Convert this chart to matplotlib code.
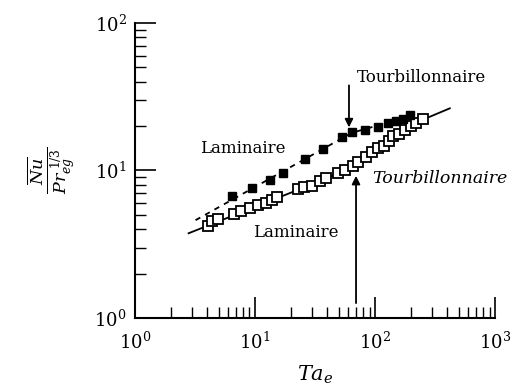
import matplotlib
matplotlib.use("Agg")
import matplotlib.pyplot as plt

plt.rcParams['font.family'] = ['DejaVu Serif']
plt.rcParams['mathtext.fontset'] = 'dejavuserif'

# open squares (lower series)
ta_open = [4.06, 4.38, 4.92, 6.68, 7.64, 9.08, 10.6, 12.4, 13.9, 15.3,
           22.8, 25.6, 29.9, 34.8, 39.1, 49.2, 56.2, 65.6, 72.2, 84.1,
           94.4, 106, 119, 131, 141, 158, 178, 200, 220, 251]
nu_open = [4.20, 4.54, 4.68, 5.06, 5.30, 5.56, 5.82, 6.01, 6.29, 6.60,
           7.47, 7.71, 7.83, 8.47, 8.87, 9.59, 10.0, 10.7, 11.4, 12.3,
           13.3, 14.2, 14.6, 15.8, 17.1, 17.6, 18.8, 19.9, 20.9, 22.3]

# filled squares (upper series)
ta_fill = [6.4, 9.4, 13.3, 17.1, 26.1, 36.9, 53.1, 64.3, 82.5, 106,
           128, 150, 171, 196]
nu_fill = [6.7, 7.6, 8.6, 9.6, 11.9, 13.9, 16.8, 18.2, 18.7, 19.7,
           20.9, 21.6, 22.2, 23.7]

# correlation lines
ta_solid = [2.8, 60, 250, 420]
nu_solid = [3.75, 10.1, 22.1, 26.4]
ta_dash = [3.2, 64, 130]
nu_dash = [4.6, 18.0, 21.2]

# transition arrows: x position, tail y, tip y
arrow_up = (69.5, 1.26, 9.2)
arrow_down = (60.7, 37.8, 19.6)

fig = plt.figure(figsize=(5.13, 3.91), dpi=100)
ax = fig.add_axes([0.263, 0.187, 0.702, 0.754])

ax.plot(ta_solid, nu_solid, color='black', lw=1.3, zorder=2)
ax.plot(ta_dash, nu_dash, color='black', lw=1.3, ls=(0, (3, 3)), zorder=2)
ax.plot(ta_open, nu_open, ls='none', marker='s', ms=7, mfc='white',
        mec='black', mew=1.3, zorder=3)
ax.plot(ta_fill, nu_fill, ls='none', marker='s', ms=6, mfc='black',
        mec='black', zorder=3)

for xa, y0, y1 in (arrow_up, arrow_down):
    ax.annotate('', xy=(xa, y1), xytext=(xa, y0),
                arrowprops=dict(arrowstyle='-|>', color='black', lw=1.3,
                                mutation_scale=12, shrinkA=0, shrinkB=0))

ax.text(3.48, 14.2, 'Laminaire', fontsize=12, va='center', ha='left')
ax.text(9.6, 3.82, 'Laminaire', fontsize=12, va='center', ha='left')
ax.text(70.8, 42.8, 'Tourbillonnaire', fontsize=12, va='center', ha='left')
ax.text(94.4, 8.87, 'Tourbillonnaire', fontsize=12.5, va='center',
        ha='left', style='italic')

ax.set_xscale('log')
ax.set_yscale('log')
ax.set_xlim(1, 1000)
ax.set_ylim(1, 100)

for s in ('top', 'right'):
    ax.spines[s].set_visible(False)
for s in ('left', 'bottom'):
    ax.spines[s].set_linewidth(1.5)

ax.tick_params(which='major', direction='in', length=15, width=1.2,
               labelsize=13)
ax.tick_params(which='minor', direction='in', length=8, width=1.0)
ax.tick_params(axis='x', which='major', pad=10)
ax.tick_params(axis='y', which='major', pad=6)

ax.set_xlabel(r'$Ta_e$', fontsize=15, labelpad=8)
ax.set_ylabel(r'$\frac{\overline{Nu}}{Pr_{eg}^{\ 1/3}}$', fontsize=18,
              labelpad=12)

fig.savefig('out.png', dpi=100)
